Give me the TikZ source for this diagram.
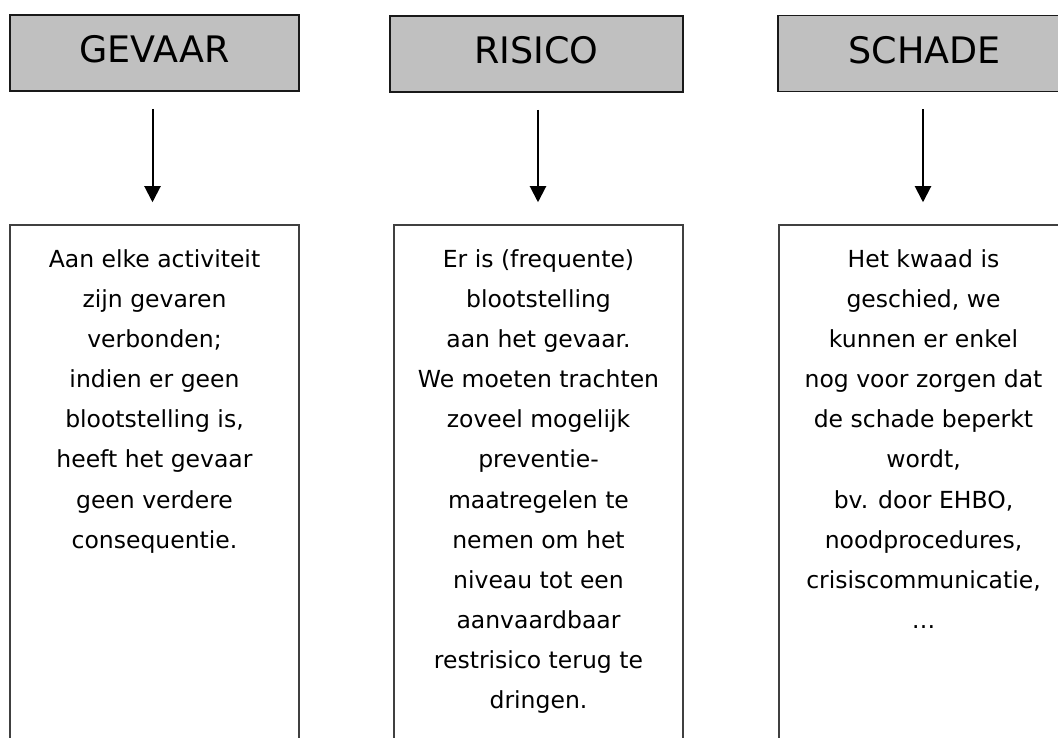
\documentclass[tikz,border=0pt]{standalone}
\usepackage{fontspec}
\setmainfont{DejaVu Sans}
\usetikzlibrary{arrows.meta}
\definecolor{hdrgray}{HTML}{C0C0C0}
\begin{document}
\begin{tikzpicture}[x=1pt,y=-1pt,
  header/.style={draw=black!90, line width=1.6pt, fill=hdrgray, minimum height=76pt,
    inner sep=0pt, font=\fontsize{36.5}{40}\selectfont, text height=26.6pt, text depth=7pt},
  panel/.style={draw=black!75, line width=1.5pt, minimum width=289pt, minimum height=535pt, inner sep=0pt},
  body/.style={align=center, anchor=north, inner sep=0pt, font=\fontsize{23.5}{40.1}\selectfont},
  link/.style={-{Triangle[width=16pt,length=16pt]}, line width=2pt, shorten <=17pt, shorten >=22pt}]
\useasboundingbox (0,0) rectangle (1058,738);
\begin{scope}
\clip (0,0) rectangle (1058,738);
\node[header, minimum width=289pt] (h1) at (154.5,53) {GEVAAR};
\node[header, minimum width=293pt] (h2) at (536.5,54) {RISICO};
\node[header, minimum width=293pt] (h3) at (924.5,53.5) {SCHADE};
\node[panel] (b1) at (154.5,492.5) {};
\node[panel] (b2) at (538.5,492.5) {};
\node[panel] (b3) at (923.5,492.5) {};
\node[body] (t1) at ([yshift=-25.1pt]b1.north) {Aan elke activiteit\\zijn gevaren\\verbonden;\\indien er geen\\blootstelling is,\\heeft het gevaar\\geen verdere\\consequentie.};
\node[body] (t2) at ([yshift=-25.1pt]b2.north) {Er is (frequente)\\blootstelling\\aan het gevaar.\\We moeten trachten\\zoveel mogelijk\\preventie-\\maatregelen te\\nemen om het\\niveau tot een\\aanvaardbaar\\restrisico terug te\\dringen.};
\node[body] (t3) at ([yshift=-25.1pt]b3.north) {Het kwaad is\\geschied, we\\kunnen er enkel\\nog voor zorgen dat\\de schade beperkt\\wordt,\\bv. door EHBO,\\noodprocedures,\\crisiscommunicatie,\\…};
\draw[link] ([xshift=-2pt]h1.south) -- ([xshift=-2pt]b1.north);
\draw[link] ([xshift=1.5pt]h2.south) -- ([xshift=-0.5pt]b2.north);
\draw[link] ([xshift=-1.5pt]h3.south) -- ([xshift=-0.5pt]b3.north);
\end{scope}
\end{tikzpicture}
\end{document}
